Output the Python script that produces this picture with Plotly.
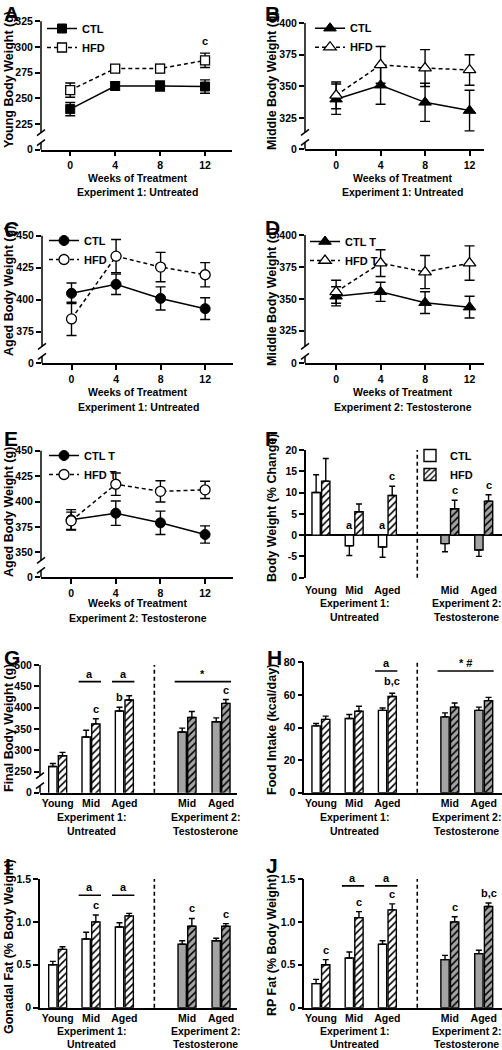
import plotly.graph_objects as go

W, H = 502, 1050
FONT = "Liberation Sans, Arial, Helvetica, sans-serif"
GRAY = "#a3a3a3"

# ---------------- data ----------------
weeks = [0, 4, 8, 12]

young_ctl = [239.5, 262, 262, 261.5]
young_ctl_err = [6.5, 4, 5, 6.5]
young_hfd = [258, 279, 279, 287]
young_hfd_err = [7, 3, 4, 7]

middle_ctl = [340, 351, 337.5, 331]
middle_ctl_err = [12, 15, 15, 16]
middle_hfd = [343, 367, 364.5, 363]
middle_hfd_err = [10.5, 14.5, 14.5, 12]

aged_ctl = [405, 412, 401, 393]
aged_ctl_err = [8, 8, 9, 8.5]
aged_hfd = [385, 434, 425.5, 419.5]
aged_hfd_err = [13, 13, 11.5, 9.5]

middle_ctl_t = [352, 355.5, 347, 343.5]
middle_ctl_t_err = [7.5, 7.5, 8.5, 8.5]
middle_hfd_t = [355.5, 378, 371, 378]
middle_hfd_t_err = [9, 10.5, 13, 13.5]

aged_ctl_t = [382, 388.5, 379, 367.5]
aged_ctl_t_err = [10, 12, 11.5, 8.5]
aged_hfd_t = [381, 417, 410, 411.5]
aged_hfd_t_err = [8.5, 11, 10.5, 8.5]

exp1_groups = ["Young", "Mid", "Aged"]
exp2_groups = ["Mid", "Aged"]

# F: body weight % change
pct_ctl1 = [10, -2.5, -2.8]
pct_ctl1_err = [4.2, 2.3, 2.4]
pct_hfd1 = [12.7, 5.5, 9.3]
pct_hfd1_err = [5.3, 1.8, 2.2]
pct_ctl2 = [-2.0, -3.5]
pct_ctl2_err = [1.9, 1.5]
pct_hfd2 = [6.2, 8.0]
pct_hfd2_err = [2.0, 1.5]

# G: final body weight
fbw_ctl1 = [262, 331, 392]
fbw_ctl1_err = [7, 16, 9]
fbw_hfd1 = [287, 362, 418]
fbw_hfd1_err = [8, 12, 10]
fbw_ctl2 = [343, 367]
fbw_ctl2_err = [9, 9]
fbw_hfd2 = [377, 410]
fbw_hfd2_err = [14, 9]

# H: food intake
food_ctl1 = [41, 45.5, 50.5]
food_ctl1_err = [1.5, 2.5, 1.5]
food_hfd1 = [45, 50, 59]
food_hfd1_err = [2, 3, 2]
food_ctl2 = [46.5, 50.5]
food_ctl2_err = [2.5, 2]
food_hfd2 = [52.5, 56.5]
food_hfd2_err = [2.5, 2]

# I: gonadal fat
gon_ctl1 = [0.50, 0.80, 0.94]
gon_ctl1_err = [0.04, 0.08, 0.05]
gon_hfd1 = [0.68, 1.00, 1.07]
gon_hfd1_err = [0.03, 0.08, 0.03]
gon_ctl2 = [0.74, 0.78]
gon_ctl2_err = [0.04, 0.03]
gon_hfd2 = [0.95, 0.95]
gon_hfd2_err = [0.09, 0.03]

# J: RP fat
rp_ctl1 = [0.28, 0.58, 0.74]
rp_ctl1_err = [0.05, 0.07, 0.04]
rp_hfd1 = [0.50, 1.05, 1.14]
rp_hfd1_err = [0.06, 0.07, 0.07]
rp_ctl2 = [0.56, 0.63]
rp_ctl2_err = [0.05, 0.04]
rp_hfd2 = [1.00, 1.18]
rp_hfd2_err = [0.06, 0.04]

# ---------------- layout helpers ----------------
exp1_x = [0, 1, 2]
exp2_x = [3.88, 4.9]
divider_x = 2.9
BW = 0.25
OFF_CTL = -0.27
OFF_HFD = 0.02


def px(x):
    return x / W


def py(y):
    return 1 - y / H


geom = {
    1: dict(l=41, r=232, t=21.3, b=149.7, xr=[-2.6, 14.4], yr=[200, 325],
            yt=[200, 225, 250, 275, 300, 325], br=True),
    2: dict(l=305, r=484, t=23, b=149.3, xr=[-2.8, 13.3], yr=[300.5, 400],
            yt=[300.5, 325, 350, 375, 400], br=True),
    3: dict(l=42, r=233, t=235.7, b=363.3, xr=[-2.65, 14.5], yr=[350.3, 450],
            yt=[350.3, 375, 400, 425, 450], br=True),
    4: dict(l=305, r=484, t=235, b=363.3, xr=[-2.8, 13.3], yr=[299.5, 400],
            yt=[299.5, 325, 350, 375, 400], br=True),
    5: dict(l=41, r=233, t=450.7, b=577.3, xr=[-2.7, 14.5], yr=[325.4, 450],
            yt=[325.4, 350, 375, 400, 425, 450], br=True),
    6: dict(l=306, r=502, t=450, b=577.7, xr=[-0.45, 5.45], yr=[-10, 20],
            yt=[-10, -5, 0, 5, 10, 15, 20], ytt=["0", "-5", "0", "5", "10", "15", "20"], br=False),
    7: dict(l=40, r=236.7, t=665, b=792.7, xr=[-0.53, 5.37], yr=[200.5, 500],
            yt=[200.5, 250, 300, 350, 400, 450, 500], br=True),
    8: dict(l=304.3, r=502, t=662.3, b=792.7, xr=[-0.5, 5.45], yr=[0, 80],
            yt=[0, 20, 40, 60, 80], br=False),
    9: dict(l=40, r=236.7, t=879, b=1007.7, xr=[-0.53, 5.37], yr=[0, 1.5],
            yt=[0, 0.5, 1.0, 1.5], ytt=["0", "0.5", "1.0", "1.5"], br=False),
    10: dict(l=304.3, r=502, t=879, b=1007.7, xr=[-0.5, 5.45], yr=[0, 1.5],
             yt=[0, 0.5, 1.0, 1.5], ytt=["0", "0.5", "1.0", "1.5"], br=False),
}

layout = dict(
    width=W, height=H, margin=dict(l=0, r=0, t=0, b=0),
    paper_bgcolor="white", plot_bgcolor="white",
    barmode="overlay", showlegend=True,
    font=dict(family=FONT, size=11, color="black", weight="bold"),
)
shapes = []
annotations = []
TICKFONT = dict(family=FONT, size=10.5, color="black", weight="bold")


def sfx(i):
    return "" if i == 1 else str(i)


for i, g in geom.items():
    s = sfx(i)
    eps = (g["yr"][1] - g["yr"][0]) * 1e-4
    line_panel = i <= 5
    xa = dict(domain=[px(g["l"]), px(g["r"])], range=g["xr"], anchor="y" + s,
              showgrid=False, zeroline=False, fixedrange=True, automargin=False,
              tickfont=TICKFONT, linecolor="black", linewidth=1.5,
              showline=(i != 6))
    if line_panel:
        xa.update(tickmode="array", tickvals=weeks, ticktext=[str(w) for w in weeks],
                  ticks="outside", ticklen=5, tickwidth=1.5, tickcolor="black")
    else:
        xa.update(tickmode="array", tickvals=exp1_x + exp2_x,
                  ticktext=exp1_groups + exp2_groups, ticks="")
        if i == 6:
            xa.update(ticklabelstandoff=5)
    ytt = g.get("ytt")
    if ytt is None:
        ytt = ["0" if (g["br"] and k == 0) else ("%g" % v) for k, v in enumerate(g["yt"])]
    ya = dict(domain=[py(g["b"]), py(g["t"])], range=[g["yr"][0] - eps, g["yr"][1] + eps],
              anchor="x" + s, showgrid=False, fixedrange=True, automargin=False,
              tickmode="array", tickvals=g["yt"], ticktext=ytt,
              ticks="outside", ticklen=5, tickwidth=1.5, tickcolor="black",
              tickfont=TICKFONT, showline=not g["br"], linecolor="black", linewidth=1.5,
              zeroline=(i == 6), zerolinecolor="black", zerolinewidth=2)
    layout["xaxis" + s] = xa
    layout["yaxis" + s] = ya
    if g["br"]:
        ax = g["l"]
        y1 = g["b"] - 17
        y2 = g["b"] - 7
        for (a, b) in [(g["t"], y1), (y2, g["b"])]:
            shapes.append(dict(type="line", xref="paper", yref="paper",
                               x0=px(ax), x1=px(ax), y0=py(a), y1=py(b),
                               line=dict(color="black", width=1.5)))
        for yb in (y1, y2):
            shapes.append(dict(type="line", xref="paper", yref="paper",
                               x0=px(ax - 4), x1=px(ax + 4), y0=py(yb + 3), y1=py(yb - 3),
                               line=dict(color="black", width=1.5)))

fig = go.Figure()

# ---------------- line panels ----------------
line_sets = [
    (1, young_ctl, young_ctl_err, young_hfd, young_hfd_err, "square", ["CTL", "HFD"], 9),
    (2, middle_ctl, middle_ctl_err, middle_hfd, middle_hfd_err, "triangle-up", ["CTL", "HFD"], 11),
    (3, aged_ctl, aged_ctl_err, aged_hfd, aged_hfd_err, "circle", ["CTL", "HFD"], 10),
    (4, middle_ctl_t, middle_ctl_t_err, middle_hfd_t, middle_hfd_t_err, "triangle-up", ["CTL T", "HFD T"], 11),
    (5, aged_ctl_t, aged_ctl_t_err, aged_hfd_t, aged_hfd_t_err, "circle", ["CTL T", "HFD T"], 10),
]
legend_pos = {1: (62, 27), 2: (330, 26.7), 3: (64, 239), 4: (325, 240), 5: (64, 454)}

for (i, c, ce, h, he, sym, names, msize) in line_sets:
    s = sfx(i)
    lg = "legend" + s
    fig.add_trace(go.Scatter(
        x=weeks, y=c, name=names[0], mode="lines+markers", xaxis="x" + s, yaxis="y" + s,
        legend=lg, line=dict(color="black", width=1.5),
        marker=dict(symbol=sym, size=msize, color="black", line=dict(color="black", width=1)),
        error_y=dict(type="data", array=ce, color="black", thickness=1.4, width=5)))
    fig.add_trace(go.Scatter(
        x=weeks, y=h, name=names[1], mode="lines+markers", xaxis="x" + s, yaxis="y" + s,
        legend=lg, line=dict(color="black", width=1.5, dash="4px,3px"),
        marker=dict(symbol=sym, size=msize, color="white", line=dict(color="black", width=1.3)),
        error_y=dict(type="data", array=he, color="black", thickness=1.4, width=5)))
    mx, my = legend_pos[i]
    layout[lg] = dict(x=px(mx - 20), y=py(my - 13), xanchor="left", yanchor="top",
                      bgcolor="rgba(0,0,0,0)", borderwidth=0, tracegroupgap=0,
                      font=dict(family=FONT, size=11, color="black", weight="bold"))

# ---------------- bar panels ----------------
bar_sets = {
    6: (pct_ctl1, pct_ctl1_err, pct_hfd1, pct_hfd1_err, pct_ctl2, pct_ctl2_err, pct_hfd2, pct_hfd2_err),
    7: (fbw_ctl1, fbw_ctl1_err, fbw_hfd1, fbw_hfd1_err, fbw_ctl2, fbw_ctl2_err, fbw_hfd2, fbw_hfd2_err),
    8: (food_ctl1, food_ctl1_err, food_hfd1, food_hfd1_err, food_ctl2, food_ctl2_err, food_hfd2, food_hfd2_err),
    9: (gon_ctl1, gon_ctl1_err, gon_hfd1, gon_hfd1_err, gon_ctl2, gon_ctl2_err, gon_hfd2, gon_hfd2_err),
    10: (rp_ctl1, rp_ctl1_err, rp_hfd1, rp_hfd1_err, rp_ctl2, rp_ctl2_err, rp_hfd2, rp_hfd2_err),
}


def add_bars(i, xs, vals, errs, offset, fill, hatch, name, show):
    s = sfx(i)
    up = [e if v >= 0 else 0 for v, e in zip(vals, errs)]
    dn = [0 if v >= 0 else e for v, e in zip(vals, errs)]
    pat = dict(shape="/", fgcolor="black", bgcolor=fill, size=5, solidity=0.32,
               fillmode="replace") if hatch else dict(shape="")
    fig.add_trace(go.Bar(
        x=xs, y=vals, width=BW, offset=offset, xaxis="x" + s, yaxis="y" + s,
        name=name, showlegend=show, legend="legend6",
        marker=dict(color=fill, line=dict(color="black", width=1.4), pattern=pat),
        error_y=dict(type="data", symmetric=False, array=up, arrayminus=dn,
                     color="black", thickness=1.4, width=3)))


for i, (c1, c1e, h1, h1e, c2, c2e, h2, h2e) in bar_sets.items():
    show = (i == 6)
    add_bars(i, exp1_x, c1, c1e, OFF_CTL, "white", False, "CTL", show)
    add_bars(i, exp1_x, h1, h1e, OFF_HFD, "white", True, "HFD", show)
    add_bars(i, exp2_x, c2, c2e, OFF_CTL, GRAY, False, "CTL", False)
    add_bars(i, exp2_x, h2, h2e, OFF_HFD, GRAY, True, "HFD", False)
    s = sfx(i)
    shapes.append(dict(type="line", xref="x" + s, yref="y" + s + " domain",
                       x0=divider_x, x1=divider_x, y0=0, y1=1,
                       line=dict(color="black", width=1.6, dash="4px,3px")))

layout["legend6"] = dict(x=px(410), y=py(441), xanchor="left", yanchor="top",
                         bgcolor="rgba(0,0,0,0)", borderwidth=0, tracegroupgap=0,
                         font=dict(family=FONT, size=11, color="black", weight="bold"))

# ---------------- significance marks ----------------
LFONT = dict(family=FONT, size=11, color="black", weight="bold")


def bar_top(i, series, k):
    d = bar_sets[i]
    idx = {"c1": 0, "h1": 2, "c2": 4, "h2": 6}[series]
    v, e = d[idx][k], d[idx + 1][k]
    return v + e if v >= 0 else 0


def letter(i, series, k, text, shift=2):
    s = sfx(i)
    xs = exp1_x if series.endswith("1") else exp2_x
    off = OFF_CTL if series.startswith("c") else OFF_HFD
    annotations.append(dict(xref="x" + s, yref="y" + s, x=xs[k] + off + BW / 2,
                            y=bar_top(i, series, k), text=text, showarrow=False,
                            xanchor="center", yanchor="bottom", yshift=shift, font=LFONT))


def sig_line(i, x_a, x_b, yv, text):
    s = sfx(i)
    shapes.append(dict(type="line", xref="x" + s, yref="y" + s, x0=x_a - 0.37, x1=x_b + 0.3,
                       y0=yv, y1=yv, line=dict(color="black", width=1.6)))
    annotations.append(dict(xref="x" + s, yref="y" + s, x=(x_a - 0.37 + x_b + 0.3) / 2, y=yv,
                            text=text, showarrow=False, xanchor="center", yanchor="bottom",
                            yshift=0, font=LFONT))


# F
letter(6, "c1", 1, "a")
letter(6, "c1", 2, "a")
letter(6, "h1", 2, "c")
letter(6, "h2", 0, "c")
letter(6, "h2", 1, "c")
# G
sig_line(7, exp1_x[1], exp1_x[1], 461, "a")
sig_line(7, exp1_x[2], exp1_x[2], 461, "a")
sig_line(7, exp2_x[0], exp2_x[1], 461, "*")
letter(7, "h1", 1, "c")
letter(7, "c1", 2, "b")
letter(7, "h2", 1, "c")
# H
sig_line(8, exp1_x[2], exp1_x[2], 74.7, "a")
sig_line(8, exp2_x[0], exp2_x[1], 74.7, "* #")
letter(8, "h1", 2, "b,c", shift=4)
# I
sig_line(9, exp1_x[1], exp1_x[1], 1.31, "a")
sig_line(9, exp1_x[2], exp1_x[2], 1.31, "a")
letter(9, "h1", 1, "c")
letter(9, "h2", 0, "c")
letter(9, "h2", 1, "c")
# J
sig_line(10, exp1_x[1], exp1_x[1], 1.42, "a")
sig_line(10, exp1_x[2], exp1_x[2], 1.42, "a")
letter(10, "h1", 0, "c")
letter(10, "h1", 1, "c")
letter(10, "h1", 2, "c")
letter(10, "h2", 0, "c")
letter(10, "h2", 1, "b,c")
# A
annotations.append(dict(xref="x", yref="y", x=weeks[3], y=young_hfd[3] + young_hfd_err[3],
                        text="c", showarrow=False, yanchor="bottom", yshift=4, font=LFONT))

# ---------------- titles / labels ----------------
YT = dict(family=FONT, size=12.5, color="black", weight="bold")
XT = dict(family=FONT, size=10.5, color="black", weight="bold")
PL = dict(family=FONT, size=21, color="black", weight="bold")

ytitles = [
    ("Young Body Weight (g)", 9, 80), ("Middle Body Weight (g)", 272, 81),
    ("Aged Body Weight (g)", 9, 291), ("Middle Body Weight (g)", 272, 297),
    ("Aged Body Weight (g)", 9, 512), ("Body Weight (% Change)", 272, 508),
    ("Final Body Weight (g)", 9, 728), ("Food Intake (kcal/day)", 272, 730),
    ("Gonadal Fat (% Body Weight)", 9, 947), ("RP Fat (% Body Weight)", 272, 945),
]
for t, x, y in ytitles:
    annotations.append(dict(xref="paper", yref="paper", x=px(x), y=py(y), text=t,
                            textangle=-90, showarrow=False, xanchor="center",
                            yanchor="middle", font=YT))

xtitles = [
    ("Weeks of Treatment", 137.5, 178), ("Experiment 1: Untreated", 137.5, 192),
    ("Weeks of Treatment", 402.7, 178), ("Experiment 1: Untreated", 402.7, 192),
    ("Weeks of Treatment", 138, 392), ("Experiment 1: Untreated", 138, 406.5),
    ("Weeks of Treatment", 402.7, 392), ("Experiment 2: Testosterone", 402.7, 406.5),
    ("Weeks of Treatment", 138, 603), ("Experiment 2: Testosterone", 138, 618),
    ("Experiment 1:", 354, 603), ("Untreated", 354, 617),
    ("Experiment 2:", 466, 603), ("Testosterone", 466, 617),
    ("Experiment 1:", 91, 817), ("Untreated", 91, 831),
    ("Experiment 2:", 205, 817), ("Testosterone", 205, 831),
    ("Experiment 1:", 354, 817), ("Untreated", 354, 831),
    ("Experiment 2:", 466, 817), ("Testosterone", 466, 831),
    ("Experiment 1:", 91, 1031), ("Untreated", 91, 1043.5),
    ("Experiment 2:", 205, 1031), ("Testosterone", 205, 1043.5),
    ("Experiment 1:", 354, 1031), ("Untreated", 354, 1043.5),
    ("Experiment 2:", 466, 1031), ("Testosterone", 466, 1043.5),
]
for t, x, y in xtitles:
    annotations.append(dict(xref="paper", yref="paper", x=px(x), y=py(y), text=t,
                            showarrow=False, xanchor="center", yanchor="middle", font=XT))

letters = [("A", 2, 0), ("B", 263, 0), ("C", 2, 215), ("D", 263, 214), ("E", 2, 425),
           ("F", 263, 425), ("G", 2, 644), ("H", 265, 644), ("I", 3, 852), ("J", 264, 852)]
for t, x, y in letters:
    annotations.append(dict(xref="paper", yref="paper", x=px(x), y=py(y), text=t,
                            showarrow=False, xanchor="left", yanchor="top", font=PL))

layout["shapes"] = shapes
layout["annotations"] = annotations
fig.update_layout(**layout)
fig.write_html(
    "out.html",
    config={"displayModeBar": False},
    post_script="document.body.style.margin='0';document.body.style.padding='0';"
                "document.body.style.overflow='hidden';"
                "document.documentElement.style.overflow='hidden';",
)
